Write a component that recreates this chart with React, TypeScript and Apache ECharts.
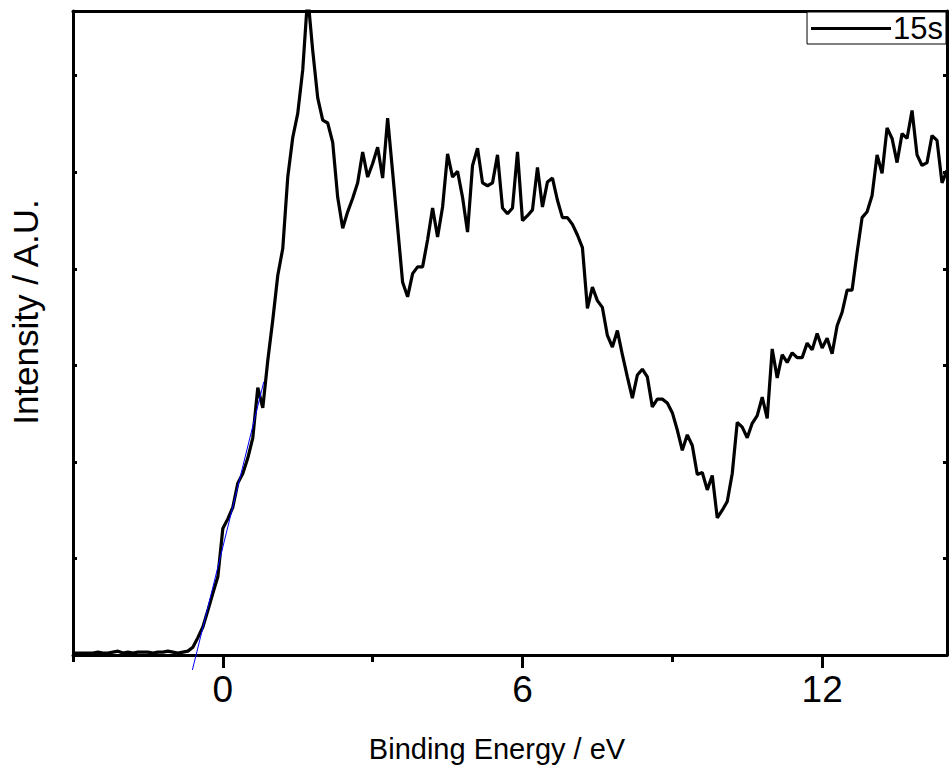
import React, { useEffect, useRef } from "react";
import * as echarts from "echarts";

// Binding energy (eV) of each sample of the 15s spectrum
const energy = [
  -3.0, -2.9, -2.8, -2.7, -2.6, -2.5, -2.4, -2.3, -2.2, -2.1,
  -2.0, -1.9, -1.8, -1.7, -1.6, -1.5, -1.4, -1.3, -1.2, -1.1,
  -1.0, -0.9, -0.8, -0.7, -0.6, -0.5, -0.4, -0.3, -0.2, -0.1,
  0.0, 0.1, 0.2, 0.3, 0.4, 0.5, 0.6, 0.7, 0.8, 0.9,
  1.0, 1.1, 1.2, 1.3, 1.4, 1.5, 1.6, 1.7, 1.8, 1.9,
  2.0, 2.1, 2.2, 2.3, 2.4, 2.5, 2.6, 2.7, 2.8, 2.9,
  3.0, 3.1, 3.2, 3.3, 3.4, 3.5, 3.6, 3.7, 3.8, 3.9,
  4.0, 4.1, 4.2, 4.3, 4.4, 4.5, 4.6, 4.7, 4.8, 4.9,
  5.0, 5.1, 5.2, 5.3, 5.4, 5.5, 5.6, 5.7, 5.8, 5.9,
  6.0, 6.1, 6.2, 6.3, 6.4, 6.5, 6.6, 6.7, 6.8, 6.9,
  7.0, 7.1, 7.2, 7.3, 7.4, 7.5, 7.6, 7.7, 7.8, 7.9,
  8.0, 8.1, 8.2, 8.3, 8.4, 8.5, 8.6, 8.7, 8.8, 8.9,
  9.0, 9.1, 9.2, 9.3, 9.4, 9.5, 9.6, 9.7, 9.8, 9.9,
  10.0, 10.1, 10.2, 10.3, 10.4, 10.5, 10.6, 10.7, 10.8, 10.9,
  11.0, 11.1, 11.2, 11.3, 11.4, 11.5, 11.6, 11.7, 11.8, 11.9,
  12.0, 12.1, 12.2, 12.3, 12.4, 12.5, 12.6, 12.7, 12.8, 12.9,
  13.0, 13.1, 13.2, 13.3, 13.4, 13.5, 13.6, 13.7, 13.8, 13.9,
  14.0, 14.1, 14.2, 14.3, 14.4, 14.5,
];

// Intensity (arbitrary units)
const intensity = [
  0.02, 0.02, 0.02, 0.02, 0.02, 0.03, 0.02, 0.02, 0.03, 0.04,
  0.02, 0.03, 0.02, 0.03, 0.03, 0.03, 0.02, 0.03, 0.03, 0.04,
  0.03, 0.02, 0.03, 0.04, 0.08, 0.18, 0.29, 0.46, 0.64, 0.81,
  1.31, 1.41, 1.53, 1.78, 1.88, 2.04, 2.25, 2.77, 2.56, 3.05,
  3.47, 3.93, 4.21, 4.95, 5.36, 5.61, 6.06, 6.83, 6.26, 5.77,
  5.54, 5.51, 5.31, 4.74, 4.42, 4.59, 4.73, 4.89, 5.21, 4.95,
  5.09, 5.26, 4.94, 5.56, 5.0, 4.43, 3.86, 3.71, 3.95, 4.02,
  4.02, 4.3, 4.63, 4.33, 4.64, 5.19, 4.95, 5.01, 4.74, 4.38,
  5.07, 5.25, 4.89, 4.86, 4.89, 5.18, 4.63, 4.57, 4.63, 5.21,
  4.5, 4.55, 4.61, 5.05, 4.64, 4.9, 4.94, 4.71, 4.53, 4.53,
  4.46, 4.35, 4.22, 3.59, 3.81, 3.67, 3.6, 3.31, 3.19, 3.36,
  3.11, 2.88, 2.66, 2.9, 2.96, 2.88, 2.57, 2.65, 2.65, 2.61,
  2.51, 2.33, 2.12, 2.28, 2.17, 1.87, 1.89, 1.71, 1.86, 1.42,
  1.5, 1.59, 1.88, 2.41, 2.36, 2.25, 2.4, 2.48, 2.67, 2.45,
  3.17, 2.87, 3.11, 3.03, 3.13, 3.08, 3.08, 3.23, 3.16, 3.33,
  3.18, 3.28, 3.12, 3.41, 3.55, 3.78, 3.78, 4.17, 4.53, 4.59,
  4.76, 5.18, 4.99, 5.46, 5.35, 5.1, 5.4, 5.35, 5.64, 5.18,
  5.07, 5.1, 5.38, 5.33, 4.89, 5.02,
];

// Linear fit of the leading edge (blue)
const fitEnergy = [-0.61, 0.82];
const fitIntensity = [-0.155, 2.83];

const seriesName = "15s";
const xMajorTicks = [0, 6, 12];
const xMinorTicks = [-3, 3, 9];
const yTicks = [1, 2, 3, 4, 5, 6];
const xTitle = "Binding Energy / eV";
const yTitle = "Intensity / A.U.";

export default function App() {
  const ref = useRef<HTMLDivElement>(null);

  useEffect(() => {
    if (!ref.current) return;
    const chart = echarts.init(ref.current, null, { renderer: "svg" });
    const font = "Arial, 'Liberation Sans', sans-serif";
    const black = "#000000";
    const axisLineStyle = { color: black, width: 3 };
    const xMin = -3;
    const xMax = 14.5;
    const yMin = 0;
    const yMax = 6.67;

    const mainData = energy.map((e, i) => [e, intensity[i]]);
    const fitData = fitEnergy.map((e, i) => [e, fitIntensity[i]]);

    chart.setOption({
      animation: false,
      backgroundColor: "#ffffff",
      grid: { left: 73, right: 3, top: 11, bottom: 122, containLabel: false },
      xAxis: [
        {
          type: "value",
          min: xMin,
          max: xMax,
          position: "bottom",
          axisLine: { show: true, onZero: false, lineStyle: axisLineStyle },
          axisTick: {
            show: true,
            customValues: xMinorTicks,
            length: 7,
            lineStyle: { color: black, width: 3 },
          },
          axisLabel: { show: false },
          splitLine: { show: false },
        },
        {
          type: "value",
          min: xMin,
          max: xMax,
          position: "bottom",
          axisLine: { show: false, onZero: false },
          axisTick: {
            show: true,
            customValues: xMajorTicks,
            length: 13,
            lineStyle: { color: black, width: 3 },
          },
          axisLabel: {
            show: true,
            customValues: xMajorTicks,
            color: black,
            fontSize: 37,
            fontFamily: font,
            margin: 16,
          },
          splitLine: { show: false },
        },
        {
          type: "value",
          min: xMin,
          max: xMax,
          position: "top",
          axisLine: { show: true, onZero: false, lineStyle: axisLineStyle },
          axisTick: { show: false },
          axisLabel: { show: false },
          splitLine: { show: false },
        },
      ],
      yAxis: [
        {
          type: "value",
          min: yMin,
          max: yMax,
          position: "left",
          axisLine: { show: true, onZero: false, lineStyle: axisLineStyle },
          axisTick: {
            show: true,
            inside: true,
            customValues: yTicks,
            length: 4,
            lineStyle: { color: black, width: 3 },
          },
          axisLabel: { show: false },
          splitLine: { show: false },
        },
        {
          type: "value",
          min: yMin,
          max: yMax,
          position: "right",
          axisLine: { show: true, onZero: false, lineStyle: axisLineStyle },
          axisTick: {
            show: true,
            inside: true,
            customValues: yTicks,
            length: 4,
            lineStyle: { color: black, width: 3 },
          },
          axisLabel: { show: false },
          splitLine: { show: false },
        },
      ],
      legend: {
        data: [{ name: seriesName, icon: "rect" }],
        top: 12,
        right: 4,
        orient: "horizontal",
        backgroundColor: "#ffffff",
        borderColor: black,
        borderWidth: 1,
        borderRadius: 0,
        padding: [1, 3, 0, 4],
        itemWidth: 80,
        itemHeight: 3,
        itemGap: 0,
        itemStyle: { color: black },
        textStyle: {
          color: black,
          fontSize: 31,
          fontFamily: font,
          lineHeight: 27,
          padding: [0, 0, 0, -3],
        },
      },
      graphic: [
        {
          type: "text",
          x: 497,
          y: 749,
          style: {
            text: xTitle,
            fill: black,
            fontSize: 29,
            fontFamily: font,
            align: "center",
            verticalAlign: "middle",
            textAlign: "center",
            textVerticalAlign: "middle",
          },
        },
        {
          type: "text",
          x: 25,
          y: 312,
          rotation: Math.PI / 2,
          style: {
            text: yTitle,
            fill: black,
            fontSize: 35,
            fontFamily: font,
            align: "center",
            verticalAlign: "middle",
            textAlign: "center",
            textVerticalAlign: "middle",
          },
        },
      ],
      series: [
        {
          name: seriesName,
          type: "line",
          xAxisIndex: 0,
          yAxisIndex: 0,
          data: mainData,
          symbol: "none",
          showSymbol: false,
          lineStyle: { color: black, width: 3.2 },
          itemStyle: { color: black },
          z: 3,
        },
        {
          name: "fit",
          type: "line",
          xAxisIndex: 0,
          yAxisIndex: 0,
          data: fitData,
          symbol: "none",
          showSymbol: false,
          clip: false,
          lineStyle: { color: "#0000ff", width: 1 },
          itemStyle: { color: "#0000ff" },
          z: 4,
        },
      ],
    });

    return () => {
      chart.dispose();
    };
  }, []);

  return (
    <div
      ref={ref}
      style={{ position: "fixed", left: 0, top: 0, width: 950, height: 777, background: "#fff" }}
    />
  );
}
